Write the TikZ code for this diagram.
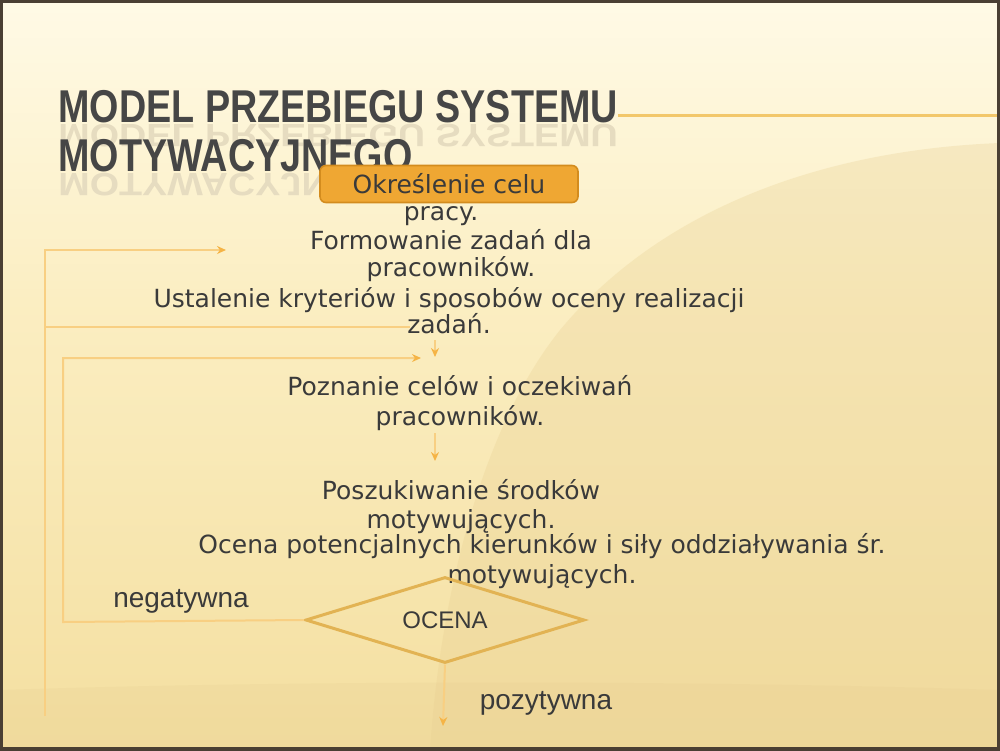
\documentclass[tikz,border=0pt]{standalone}
\usepackage{fontspec}
\setmainfont{DejaVu Sans}
\newfontfamily\labfont{Liberation Sans}
\newfontfamily\titlefont[FakeStretch=0.82]{Liberation Sans}
\usetikzlibrary{shapes.geometric,arrows.meta}
\definecolor{bgtop}{HTML}{FFFAE6}
\definecolor{bgmid}{HTML}{FBEEC2}
\definecolor{bgbot}{HTML}{F4DFA0}
\definecolor{swoosh}{HTML}{E8CF92}
\definecolor{frame}{HTML}{4A3F33}
\definecolor{txt}{HTML}{3A3A3A}
\definecolor{titlec}{HTML}{464646}
\definecolor{reflc}{HTML}{E6DCC0}
\definecolor{boxfill}{HTML}{EFA733}
\definecolor{boxdraw}{HTML}{D38C1E}
\definecolor{conn}{HTML}{F8CF82}
\definecolor{tipc}{HTML}{F5B446}
\definecolor{diam}{HTML}{E2B353}
\definecolor{uline}{HTML}{F2C76A}
\tikzset{
  bodytext/.style={text=txt, align=center, inner sep=0pt, font=\fontsize{12.5}{14}\selectfont},
  labtext/.style={text=txt, inner sep=0pt, font=\labfont\fontsize{14}{16}\selectfont},
  titletext/.style={text=titlec, inner sep=0pt, font=\titlefont\bfseries\fontsize{23}{26}\selectfont},
  reflecttext/.style={text=reflc, inner sep=0pt, yscale=-0.7, transform shape,
     font=\titlefont\bfseries\fontsize{23}{26}\selectfont},
  goalbox/.style={fill=boxfill, draw=boxdraw, line width=0.8pt, rounded corners=3pt,
     minimum width=129pt, minimum height=18.5pt, inner sep=0pt, text=txt,
     font=\fontsize{12.5}{14}\selectfont},
  conline/.style={draw=conn, line width=1pt},
  conarrow/.style={draw=conn, line width=1pt, -{Stealth[length=4.5pt,width=4pt,color=tipc]}},
  decision/.style={diamond, draw=diam, line width=1.5pt, minimum width=139.5pt,
     minimum height=43pt, inner sep=0pt, aspect=3.2, text=txt,
     font=\labfont\fontsize{12}{14}\selectfont}
}
\begin{document}
\begin{tikzpicture}[x=0.5pt,y=-0.5pt]
\useasboundingbox (0,0) rectangle (1000,750);
% background
\fill[top color=bgtop, bottom color=bgmid] (0,0) rectangle (1000,301);
\fill[top color=bgmid, bottom color=bgbot] (0,300) rectangle (1000,750);
\fill[swoosh, opacity=0.3] (1000,143) .. controls (820,150) and (660,210) .. (560,330)
   .. controls (480,430) and (440,600) .. (430,750) -- (1000,750) -- cycle;
\fill[swoosh, opacity=0.25] (0,690) .. controls (300,680) and (700,680) .. (1000,690) -- (1000,750) -- (0,750) -- cycle;
% title
\node[reflecttext, anchor=base west] (refl1) at (58,124) {MODEL PRZEBIEGU SYSTEMU};
\node[titletext, anchor=base west] (title1) at (58,122) {MODEL PRZEBIEGU SYSTEMU};
\node[reflecttext, anchor=base west] (refl2) at (58,173) {MOTYWACYJNEGO};
\node[titletext, anchor=base west] (title2) at (58,171) {MOTYWACYJNEGO};
\coordinate (ulend) at (1000,115);
\draw[uline, line width=1.5pt] (title1.east |- ulend) -- (ulend);
% flow nodes
\node[goalbox] (goal) at (449,184) {Określenie celu};
\node[bodytext] (pracy) at (441,216) {pracy.};
\node[bodytext, font=\fontsize{12.5}{13.5}\selectfont] (n2) at (451,256) {Formowanie zadań dla\\pracowników.};
\node[bodytext, font=\fontsize{12.5}{13}\selectfont] (n3) at (449,311) {Ustalenie kryteriów i sposobów oceny realizacji\\zadań.};
\node[bodytext, font=\fontsize{12.5}{15}\selectfont] (n4) at (460,403) {Poznanie celów i oczekiwań\\pracowników.};
\node[bodytext, font=\fontsize{12.5}{14.5}\selectfont] (n5) at (461,507) {Poszukiwanie środków\\motywujących.};
\node[bodytext, font=\fontsize{12.5}{15}\selectfont] (n6) at (542,561) {Ocena potencjalnych kierunków i siły oddziaływania śr.\\motywujących.};
\node[decision] (d) at (445,620) {OCENA};
\node[labtext] (neg) at (181,601) {negatywna};
\node[labtext] (poz) at (546,703) {pozytywna};
% connector coordinates
\coordinate (a1s) at (435,340);
\coordinate (a1e) at (435,357);
\coordinate (a2s) at (435,433);
\coordinate (a2e) at (435,461);
\coordinate (a3e) at (443,726);
\coordinate (o1) at (410,327);
\coordinate (o2) at (45,327);
\coordinate (o3) at (45,250);
\coordinate (o4) at (226,250);
\coordinate (o5) at (45,716);
\coordinate (i1) at (63,622);
\coordinate (i2) at (63,358);
\coordinate (i3) at (421,358);
% connectors
\draw[conarrow] (a1s) -- (a1e);
\draw[conarrow] (a2s) -- (a2e);
\draw[conarrow] (d.south) -- (a3e);
\draw[conline] (o1) -- (o2);
\draw[conarrow] (o5) -- (o3) -- (o4);
\draw[conarrow] (d.west) -- (i1) -- (i2) -- (i3);
% frame
\draw[frame, line width=3pt] (0,0) rectangle (1000,750);
\end{tikzpicture}
\end{document}
